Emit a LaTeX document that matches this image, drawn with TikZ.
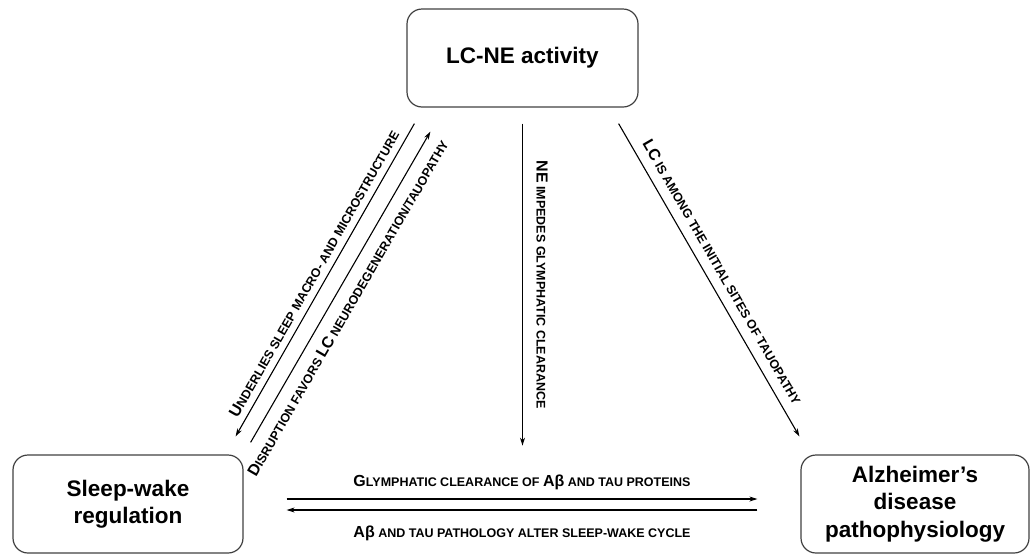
\documentclass[tikz,border=0pt]{standalone}
\usepackage{fontspec}
\setmainfont{Liberation Sans}
\usetikzlibrary{arrows.meta,calc}

% bigger initials for the small-caps labels
\newcommand\ini[1]{{\fontsize{16}{16}\selectfont #1}}

\tikzset{
  >={Stealth[length=8pt,width=5pt]},
  stage/.style={draw=black!75, line width=1.2pt, rounded corners=15pt, align=center,
    minimum height=98pt, font=\fontsize{22.5}{27.5}\selectfont\bfseries},
  link/.style={line width=1.1pt},
  tag/.style={font=\fontsize{12.5}{14}\selectfont\bfseries, inner sep=1pt}
}

\begin{document}
\begin{tikzpicture}[x=1pt,y=-1pt]
\useasboundingbox (0,0) rectangle (1031,555);

\node[stage, minimum width=231pt] (lcne) at (522.5,58) {LC-NE activity};
\node[stage, minimum width=230pt] (sleep) at (128,504) {Sleep-wake\\regulation};
\node[stage, minimum width=228pt] (ad) at (915,504) {Alzheimer’s\\disease\\pathophysiology};

\coordinate (u1) at ($(lcne.south west)+(8,16)$);
\coordinate (u2) at ($(sleep.north east)+(-8,-18)$);
\coordinate (d1) at ($(sleep.north east)+(7,-12)$);
\coordinate (d2) at ($(lcne.south west)+(24,24)$);
\coordinate (m1) at ($(lcne.south)+(0,16)$);
\coordinate (m2) at ($(lcne.south)+(0,338)$);
\coordinate (r1) at ($(lcne.south east)+(-20,16)$);
\coordinate (r2) at ($(ad.north west)+(-1,-18)$);

% LC-NE <-> sleep
\draw[link,<-] (u2) -- node[tag, sloped, above, outer sep=6pt]
  {\ini{U}NDERLIES SLEEP MACRO- AND MICROSTRUCTURE} (u1);
\draw[link,->] (d1) -- node[tag, sloped, below, outer sep=10pt, pos=0.46]
  {\ini{D}ISRUPTION FAVORS \ini{LC} NEURODEGENERATION/TAUOPATHY} (d2);

% LC-NE -> clearance
\draw[link,->] (m1) -- node[tag, rotate=-90, anchor=south, outer sep=13pt]
  {\ini{NE} IMPEDES GLYMPHATIC CLEARANCE} (m2);

% LC-NE -> AD
\draw[link,->] (r1) -- node[tag, sloped, above, outer sep=9pt]
  {\ini{LC} IS AMONG THE INITIAL SITES OF TAUOPATHY} (r2);

% sleep <-> AD
\draw[link,->, shorten <=43pt, shorten >=43pt] ([yshift=5pt]sleep.east)
  -- node[tag, above=8pt] {\ini{G}LYMPHATIC CLEARANCE OF \ini{Aβ} AND TAU PROTEINS}
  ([yshift=5pt]ad.west);
\draw[link,->, shorten <=43pt, shorten >=43pt] ([yshift=-6pt]ad.west)
  -- node[tag, below=14pt] {\ini{Aβ} AND TAU PATHOLOGY ALTER SLEEP-WAKE CYCLE}
  ([yshift=-6pt]sleep.east);
\end{tikzpicture}
\end{document}
